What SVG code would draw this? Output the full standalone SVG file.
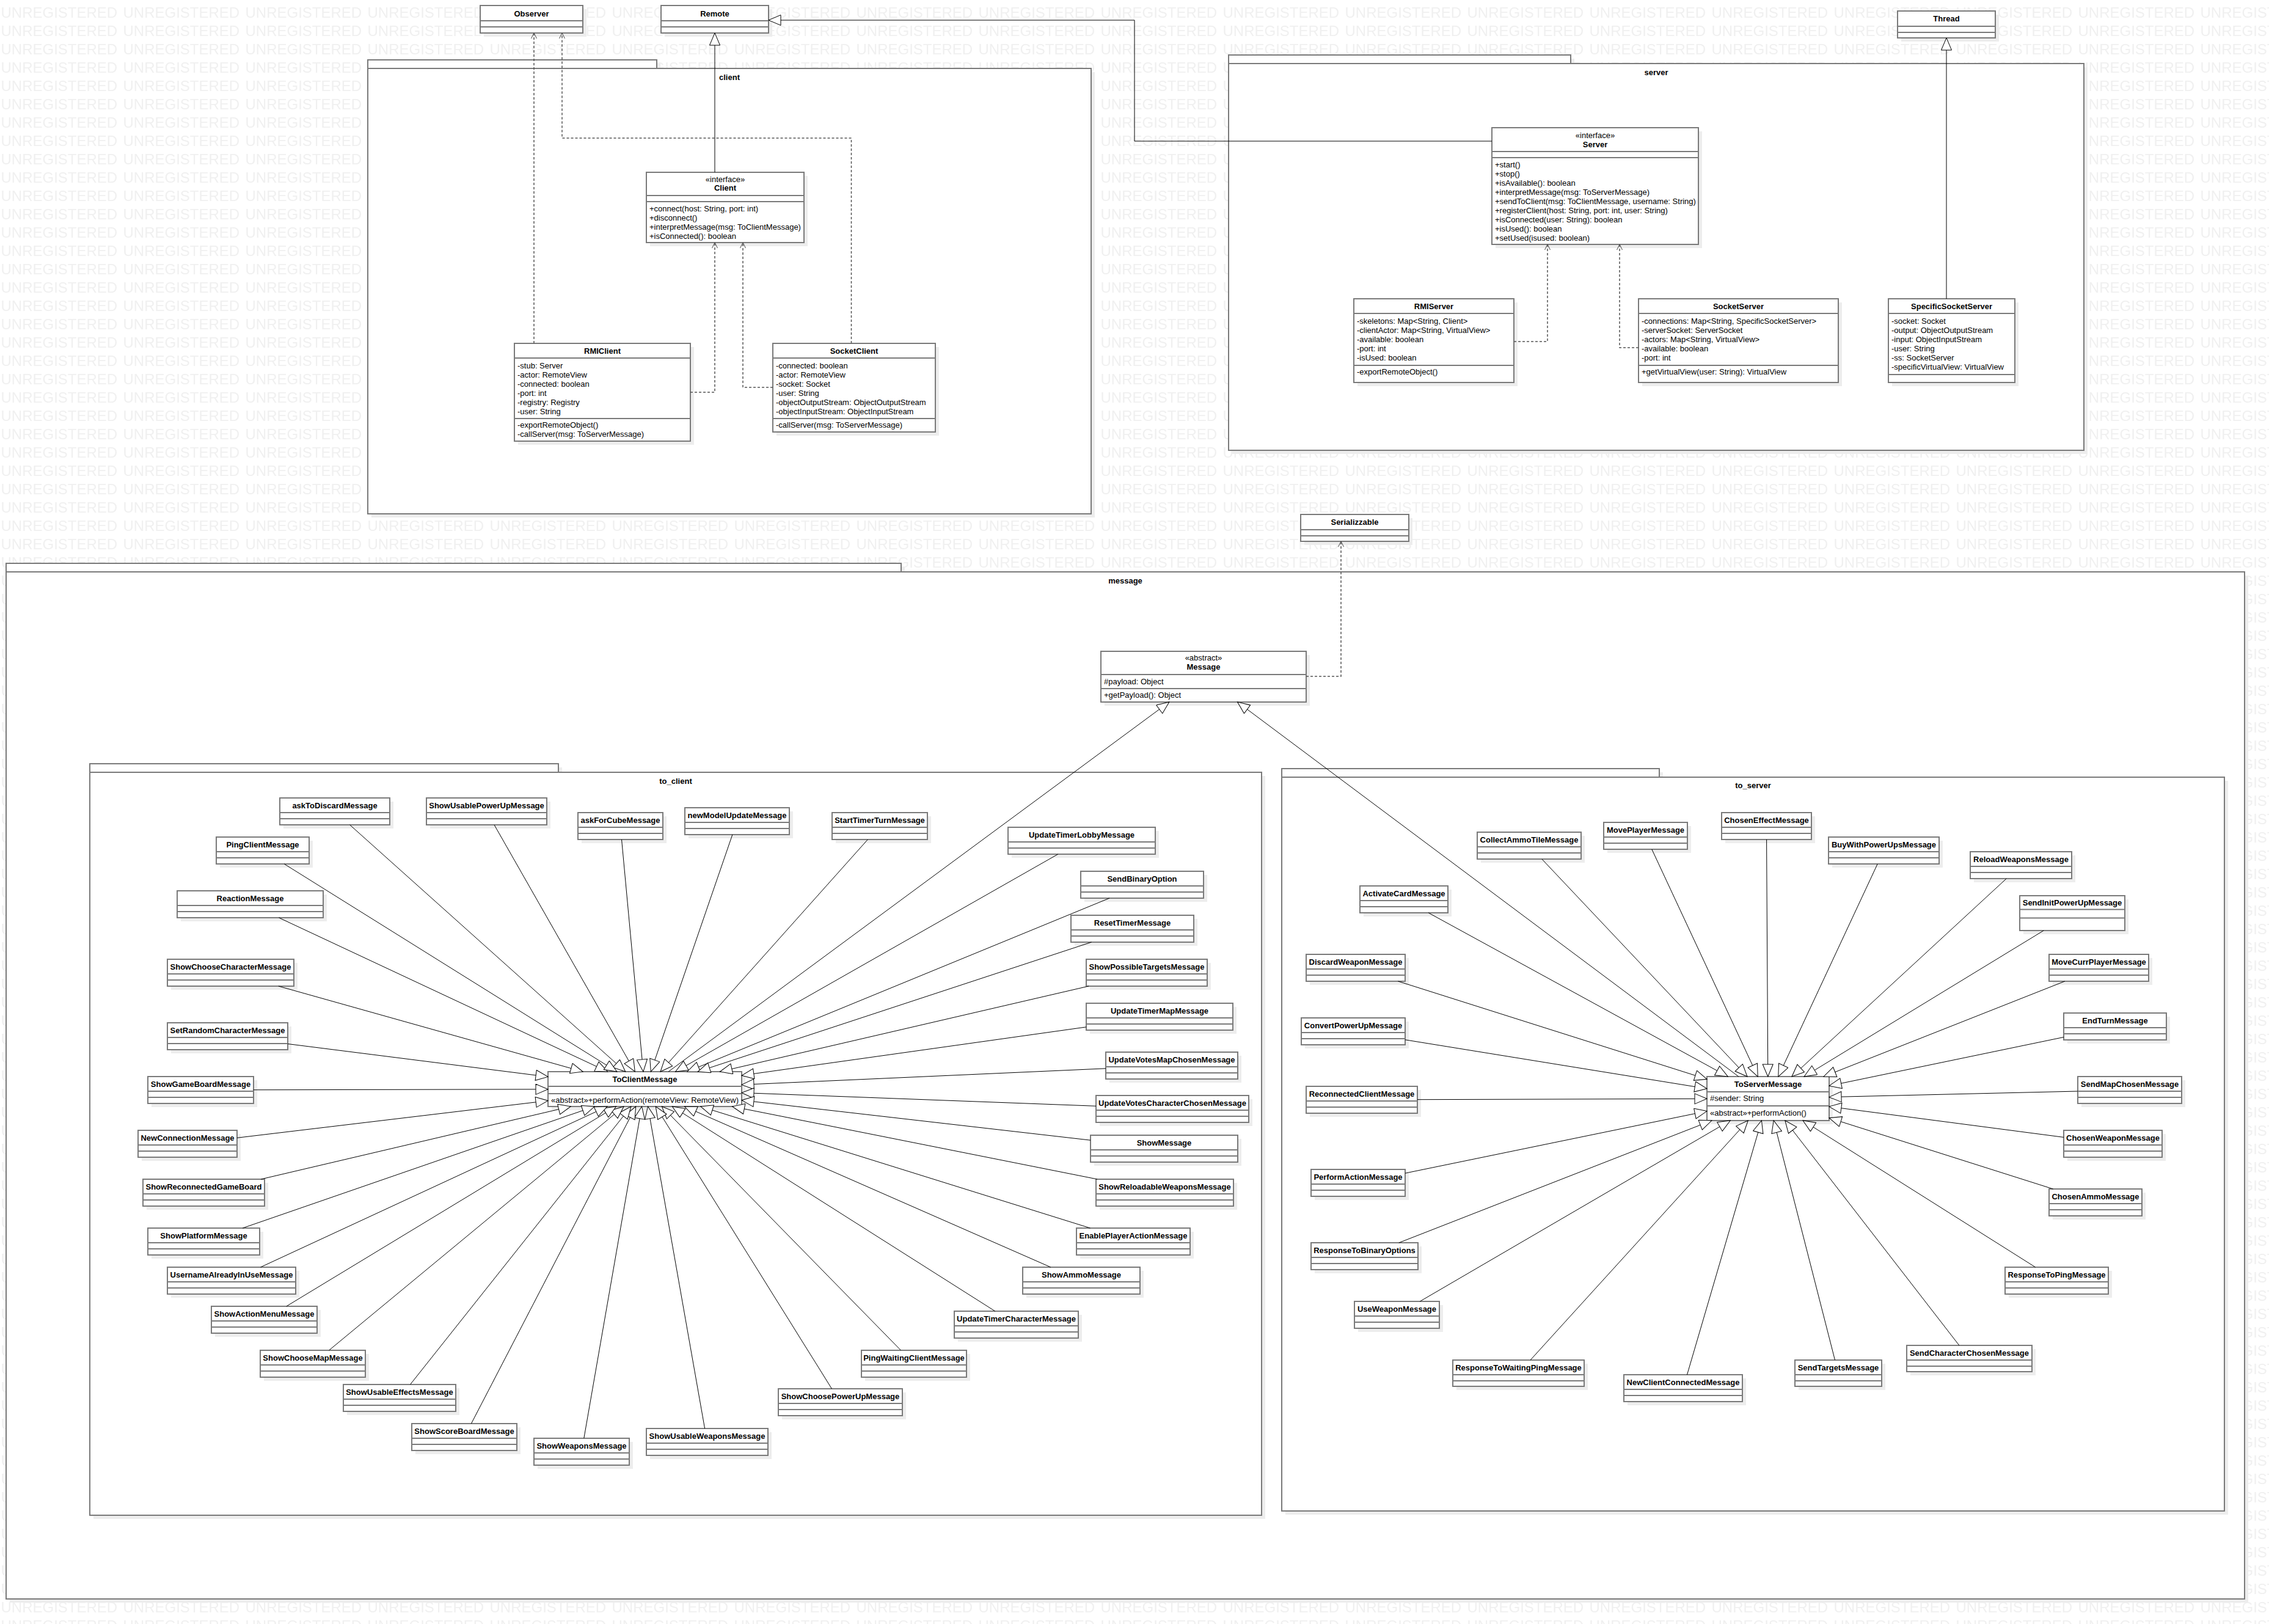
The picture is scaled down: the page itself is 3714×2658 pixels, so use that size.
<svg xmlns="http://www.w3.org/2000/svg" width="3714" height="2658" viewBox="0 0 3714 2658">
<style>
.bx{fill:#fff;stroke:#7a7a7a;stroke-width:2}
.sh{fill:#ededed}
.dv{stroke:#7a7a7a;stroke-width:2;fill:none}
.pk{fill:#fff;stroke:#7a7a7a;stroke-width:2}
.nm{font-family:'Liberation Sans',Arial,sans-serif;font-size:13px;font-weight:bold;text-anchor:middle;fill:#000}
.st{font-family:'Liberation Sans',Arial,sans-serif;font-size:13px;text-anchor:middle;fill:#000}
.tx{font-family:'Liberation Sans',Arial,sans-serif;font-size:13px;fill:#000}
.gen{stroke:#000;stroke-width:1;fill:none;marker-end:url(#tri)}
.dep{stroke:#555;stroke-width:1.5;fill:none;stroke-dasharray:4 3;marker-end:url(#open)}
</style>
<defs>
<pattern id="wm" patternUnits="userSpaceOnUse" x="0" y="0" width="200" height="30">
<text x="1.5" y="29" font-family="'Liberation Sans',Arial,sans-serif" font-size="24" fill="#f0f0f0">UNREGISTERED</text>
</pattern>
<marker id="tri" markerUnits="userSpaceOnUse" markerWidth="24" markerHeight="20" refX="21" refY="9" orient="auto"><path d="M1,0.5 L21,9 L1,17.5 Z" fill="#fff" stroke="#000" stroke-width="1"/></marker>
<marker id="open" markerUnits="userSpaceOnUse" markerWidth="12" markerHeight="12" refX="10" refY="5" orient="auto"><path d="M1,0.5 L10,5 L1,9.5" fill="none" stroke="#444" stroke-width="1"/></marker>
</defs>
<rect width="3714" height="2658" fill="#fff"/>
<rect width="3714" height="2658" fill="url(#wm)"/>

<g id="pkg_client">
<rect class="sh" x="608" y="104" width="473" height="14"/><rect class="sh" x="608" y="118" width="1184" height="729"/>
<rect class="pk" x="602" y="98" width="473" height="14"/><rect class="pk" x="602" y="112" width="1184" height="729"/>
<text class="nm" x="1194" y="130.5">client</text>
</g>
<g id="pkg_server">
<rect class="sh" x="2017" y="96" width="560" height="14"/><rect class="sh" x="2017" y="110" width="1400" height="633"/>
<rect class="pk" x="2011" y="90" width="560" height="14"/><rect class="pk" x="2011" y="104" width="1400" height="633"/>
<text class="nm" x="2711" y="122.5">server</text>
</g>
<g id="pkg_message">
<rect class="sh" x="16" y="928" width="1465" height="14"/><rect class="sh" x="16" y="942" width="3664" height="1681"/>
<rect class="pk" x="10" y="922" width="1465" height="14"/><rect class="pk" x="10" y="936" width="3664" height="1681"/>
<text class="nm" x="1842" y="954.5">message</text>
</g>
<g id="pkg_to_client">
<rect class="sh" x="153" y="1256" width="767" height="14"/><rect class="sh" x="153" y="1270" width="1918" height="1216"/>
<rect class="pk" x="147" y="1250" width="767" height="14"/><rect class="pk" x="147" y="1264" width="1918" height="1216"/>
<text class="nm" x="1106" y="1283">to_client</text>
</g>
<g id="pkg_to_server">
<rect class="sh" x="2104" y="1264" width="618" height="14"/><rect class="sh" x="2104" y="1278" width="1543" height="1201"/>
<rect class="pk" x="2098" y="1258" width="618" height="14"/><rect class="pk" x="2098" y="1272" width="1543" height="1201"/>
<text class="nm" x="2869.5" y="1289.5">to_server</text>
</g>

<g id="n_Observer"><rect class="sh" x="792" y="15" width="168" height="45"/><rect class="bx" x="786" y="9" width="168" height="45"/><path class="dv" d="M786,34h168M786,44h168"/><text class="nm" x="870" y="26.5">Observer</text></g>
<g id="n_Remote"><rect class="sh" x="1088" y="15" width="176" height="45"/><rect class="bx" x="1082" y="9" width="176" height="45"/><path class="dv" d="M1082,34h176M1082,44h176"/><text class="nm" x="1170" y="26.5">Remote</text></g>
<g id="n_Thread"><rect class="sh" x="3112" y="24" width="160" height="44"/><rect class="bx" x="3106" y="18" width="160" height="44"/><path class="dv" d="M3106,43h160M3106,53h160"/><text class="nm" x="3186" y="35">Thread</text></g>
<g id="n_Serializzable"><rect class="sh" x="2135" y="848" width="177" height="44"/><rect class="bx" x="2129" y="842" width="177" height="44"/><path class="dv" d="M2129,867h177M2129,877h177"/><text class="nm" x="2217.5" y="859">Serializzable</text></g>

<g id="n_Client"><rect class="sh" x="1064" y="288" width="258" height="115"/><rect class="bx" x="1058" y="282" width="258" height="115"/><path class="dv" d="M1058,320h258M1058,330h258"/>
<text class="st" x="1187" y="297.5">«interface»</text><text class="nm" x="1187" y="312">Client</text>
<text class="tx" x="1063" y="345.5">+connect(host: String, port: int)</text><text class="tx" x="1063" y="360.5">+disconnect()</text><text class="tx" x="1063" y="375.5">+interpretMessage(msg: ToClientMessage)</text><text class="tx" x="1063" y="390.5">+isConnected(): boolean</text></g>

<g id="n_RMIClient"><rect class="sh" x="848" y="568" width="288" height="160"/><rect class="bx" x="842" y="562" width="288" height="160"/><path class="dv" d="M842,586h288M842,685h288"/>
<text class="nm" x="986" y="578.5">RMIClient</text>
<text class="tx" x="847" y="602.5">-stub: Server</text><text class="tx" x="847" y="617.5">-actor: RemoteView</text><text class="tx" x="847" y="632.5">-connected: boolean</text><text class="tx" x="847" y="647.5">-port: int</text><text class="tx" x="847" y="662.5">-registry: Registry</text><text class="tx" x="847" y="677.5">-user: String</text>
<text class="tx" x="847" y="699.5">-exportRemoteObject()</text><text class="tx" x="847" y="714.5">-callServer(msg: ToServerMessage)</text></g>

<g id="n_SocketClient"><rect class="sh" x="1271" y="568" width="266" height="145"/><rect class="bx" x="1265" y="562" width="266" height="145"/><path class="dv" d="M1265,586h266M1265,685h266"/>
<text class="nm" x="1398" y="578.5">SocketClient</text>
<text class="tx" x="1270" y="602.5">-connected: boolean</text><text class="tx" x="1270" y="617.5">-actor: RemoteView</text><text class="tx" x="1270" y="632.5">-socket: Socket</text><text class="tx" x="1270" y="647.5">-user: String</text><text class="tx" x="1270" y="662.5">-objectOutputStream: ObjectOutputStream</text><text class="tx" x="1270" y="677.5">-objectInputStream: ObjectInputStream</text>
<text class="tx" x="1270" y="699.5">-callServer(msg: ToServerMessage)</text></g>

<g id="n_Server"><rect class="sh" x="2448" y="215" width="338" height="191"/><rect class="bx" x="2442" y="209" width="338" height="191"/><path class="dv" d="M2442,248h338M2442,258h338"/>
<text class="st" x="2611" y="225.5">«interface»</text><text class="nm" x="2611" y="240.5">Server</text>
<text class="tx" x="2447" y="273.5">+start()</text><text class="tx" x="2447" y="288.5">+stop()</text><text class="tx" x="2447" y="303.5">+isAvailable(): boolean</text><text class="tx" x="2447" y="318.5">+interpretMessage(msg: ToServerMessage)</text><text class="tx" x="2447" y="333.5">+sendToClient(msg: ToClientMessage, username: String)</text><text class="tx" x="2447" y="348.5">+registerClient(host: String, port: int, user: String)</text><text class="tx" x="2447" y="363.5">+isConnected(user: String): boolean</text><text class="tx" x="2447" y="378.5">+isUsed(): boolean</text><text class="tx" x="2447" y="393.5">+setUsed(isused: boolean)</text></g>

<g id="n_RMIServer"><rect class="sh" x="2222" y="495" width="262" height="137"/><rect class="bx" x="2216" y="489" width="262" height="137"/><path class="dv" d="M2216,513h262M2216,598h262"/>
<text class="nm" x="2347" y="505.5">RMIServer</text>
<text class="tx" x="2221" y="529.5">-skeletons: Map&lt;String, Client&gt;</text><text class="tx" x="2221" y="544.5">-clientActor: Map&lt;String, VirtualView&gt;</text><text class="tx" x="2221" y="559.5">-available: boolean</text><text class="tx" x="2221" y="574.5">-port: int</text><text class="tx" x="2221" y="589.5">-isUsed: boolean</text>
<text class="tx" x="2221" y="612.5">-exportRemoteObject()</text></g>

<g id="n_SocketServer"><rect class="sh" x="2688" y="495" width="327" height="137"/><rect class="bx" x="2682" y="489" width="327" height="137"/><path class="dv" d="M2682,513h327M2682,598h327"/>
<text class="nm" x="2845.5" y="505.5">SocketServer</text>
<text class="tx" x="2687" y="529.5">-connections: Map&lt;String, SpecificSocketServer&gt;</text><text class="tx" x="2687" y="544.5">-serverSocket: ServerSocket</text><text class="tx" x="2687" y="559.5">-actors: Map&lt;String, VirtualView&gt;</text><text class="tx" x="2687" y="574.5">-available: boolean</text><text class="tx" x="2687" y="589.5">-port: int</text>
<text class="tx" x="2687" y="612.5">+getVirtualView(user: String): VirtualView</text></g>

<g id="n_SpecificSocketServer"><rect class="sh" x="3097" y="495" width="207" height="137"/><rect class="bx" x="3091" y="489" width="207" height="137"/><path class="dv" d="M3091,513h207M3091,613h207"/>
<text class="nm" x="3194.5" y="505.5">SpecificSocketServer</text>
<text class="tx" x="3096" y="529.5">-socket: Socket</text><text class="tx" x="3096" y="544.5">-output: ObjectOutputStream</text><text class="tx" x="3096" y="559.5">-input: ObjectInputStream</text><text class="tx" x="3096" y="574.5">-user: String</text><text class="tx" x="3096" y="589.5">-ss: SocketServer</text><text class="tx" x="3096" y="604.5">-specificVirtualView: VirtualView</text></g>

<g id="n_Message"><rect class="sh" x="1808" y="1072" width="336" height="83"/><rect class="bx" x="1802" y="1066" width="336" height="83"/><path class="dv" d="M1802,1104h336M1802,1127h336"/>
<text class="st" x="1970" y="1081">«abstract»</text><text class="nm" x="1970" y="1096">Message</text>
<text class="tx" x="1807" y="1119.5">#payload: Object</text><text class="tx" x="1807" y="1142">+getPayload(): Object</text></g>

<g id="n_ToClientMessage"><rect class="sh" x="903" y="1760" width="317" height="57"/><rect class="bx" x="897" y="1754" width="317" height="57"/><path class="dv" d="M897,1778h317M897,1790h317"/>
<text class="nm" x="1055.5" y="1770.5">ToClientMessage</text><text class="tx" x="902" y="1804.5">«abstract»+performAction(remoteView: RemoteView)</text></g>

<g id="n_ToServerMessage"><rect class="sh" x="2800" y="1768" width="200" height="72"/><rect class="bx" x="2794" y="1762" width="200" height="72"/><path class="dv" d="M2794,1787h200M2794,1810h200"/>
<text class="nm" x="2894" y="1779">ToServerMessage</text><text class="tx" x="2799" y="1802">#sender: String</text><text class="tx" x="2799" y="1826">«abstract»+performAction()</text></g>

<g id="n_askToDiscardMessage"><rect class="sh" x="464" y="1312" width="180" height="44"/><rect class="bx" x="458" y="1306" width="180" height="44"/><path class="dv" d="M458,1330h180M458,1340h180"/><text class="nm" x="548" y="1322.5">askToDiscardMessage</text></g>
<g id="n_ShowUsablePowerUpMessage"><rect class="sh" x="704" y="1312" width="197" height="44"/><rect class="bx" x="698" y="1306" width="197" height="44"/><path class="dv" d="M698,1330h197M698,1340h197"/><text class="nm" x="796.5" y="1322.5">ShowUsablePowerUpMessage</text></g>
<g id="n_askForCubeMessage"><rect class="sh" x="952" y="1336" width="139" height="44"/><rect class="bx" x="946" y="1330" width="139" height="44"/><path class="dv" d="M946,1354h139M946,1364h139"/><text class="nm" x="1015.5" y="1346.5">askForCubeMessage</text></g>
<g id="n_newModelUpdateMessage"><rect class="sh" x="1127" y="1328" width="171" height="44"/><rect class="bx" x="1121" y="1322" width="171" height="44"/><path class="dv" d="M1121,1346h171M1121,1356h171"/><text class="nm" x="1206.5" y="1338.5">newModelUpdateMessage</text></g>
<g id="n_StartTimerTurnMessage"><rect class="sh" x="1368" y="1336" width="156" height="44"/><rect class="bx" x="1362" y="1330" width="156" height="44"/><path class="dv" d="M1362,1354h156M1362,1364h156"/><text class="nm" x="1440" y="1346.5">StartTimerTurnMessage</text></g>
<g id="n_UpdateTimerLobbyMessage"><rect class="sh" x="1656" y="1360" width="241" height="44"/><rect class="bx" x="1650" y="1354" width="241" height="44"/><path class="dv" d="M1650,1378h241M1650,1388h241"/><text class="nm" x="1770.5" y="1370.5">UpdateTimerLobbyMessage</text></g>
<g id="n_SendBinaryOption"><rect class="sh" x="1775" y="1432" width="201" height="44"/><rect class="bx" x="1769" y="1426" width="201" height="44"/><path class="dv" d="M1769,1450h201M1769,1460h201"/><text class="nm" x="1869.5" y="1442.5">SendBinaryOption</text></g>
<g id="n_ResetTimerMessage"><rect class="sh" x="1759" y="1504" width="201" height="44"/><rect class="bx" x="1753" y="1498" width="201" height="44"/><path class="dv" d="M1753,1522h201M1753,1532h201"/><text class="nm" x="1853.5" y="1514.5">ResetTimerMessage</text></g>
<g id="n_ShowPossibleTargetsMessage"><rect class="sh" x="1784" y="1576" width="198" height="44"/><rect class="bx" x="1778" y="1570" width="198" height="44"/><path class="dv" d="M1778,1594h198M1778,1604h198"/><text class="nm" x="1877" y="1586.5">ShowPossibleTargetsMessage</text></g>
<g id="n_UpdateTimerMapMessage"><rect class="sh" x="1784" y="1648" width="240" height="44"/><rect class="bx" x="1778" y="1642" width="240" height="44"/><path class="dv" d="M1778,1666h240M1778,1676h240"/><text class="nm" x="1898" y="1658.5">UpdateTimerMapMessage</text></g>
<g id="n_UpdateVotesMapChosenMessage"><rect class="sh" x="1816" y="1728" width="216" height="44"/><rect class="bx" x="1810" y="1722" width="216" height="44"/><path class="dv" d="M1810,1746h216M1810,1756h216"/><text class="nm" x="1918" y="1738.5">UpdateVotesMapChosenMessage</text></g>
<g id="n_UpdateVotesCharacterChosenMessage"><rect class="sh" x="1800" y="1799" width="250" height="44"/><rect class="bx" x="1794" y="1793" width="250" height="44"/><path class="dv" d="M1794,1817h250M1794,1827h250"/><text class="nm" x="1919" y="1809.5">UpdateVotesCharacterChosenMessage</text></g>
<g id="n_ShowMessage"><rect class="sh" x="1791" y="1864" width="241" height="44"/><rect class="bx" x="1785" y="1858" width="241" height="44"/><path class="dv" d="M1785,1882h241M1785,1892h241"/><text class="nm" x="1905.5" y="1874.5">ShowMessage</text></g>
<g id="n_ShowReloadableWeaponsMessage"><rect class="sh" x="1800" y="1936" width="225" height="44"/><rect class="bx" x="1794" y="1930" width="225" height="44"/><path class="dv" d="M1794,1954h225M1794,1964h225"/><text class="nm" x="1906.5" y="1946.5">ShowReloadableWeaponsMessage</text></g>
<g id="n_EnablePlayerActionMessage"><rect class="sh" x="1768" y="2016" width="186" height="44"/><rect class="bx" x="1762" y="2010" width="186" height="44"/><path class="dv" d="M1762,2034h186M1762,2044h186"/><text class="nm" x="1855" y="2026.5">EnablePlayerActionMessage</text></g>
<g id="n_ShowAmmoMessage"><rect class="sh" x="1680" y="2080" width="192" height="44"/><rect class="bx" x="1674" y="2074" width="192" height="44"/><path class="dv" d="M1674,2098h192M1674,2108h192"/><text class="nm" x="1770" y="2090.5">ShowAmmoMessage</text></g>
<g id="n_UpdateTimerCharacterMessage"><rect class="sh" x="1568" y="2152" width="203" height="44"/><rect class="bx" x="1562" y="2146" width="203" height="44"/><path class="dv" d="M1562,2170h203M1562,2180h203"/><text class="nm" x="1663.5" y="2162.5">UpdateTimerCharacterMessage</text></g>
<g id="n_PingWaitingClientMessage"><rect class="sh" x="1416" y="2216" width="172" height="44"/><rect class="bx" x="1410" y="2210" width="172" height="44"/><path class="dv" d="M1410,2234h172M1410,2244h172"/><text class="nm" x="1496" y="2226.5">PingWaitingClientMessage</text></g>
<g id="n_ShowChoosePowerUpMessage"><rect class="sh" x="1280" y="2279" width="203" height="44"/><rect class="bx" x="1274" y="2273" width="203" height="44"/><path class="dv" d="M1274,2297h203M1274,2307h203"/><text class="nm" x="1375.5" y="2289.5">ShowChoosePowerUpMessage</text></g>
<g id="n_ShowUsableWeaponsMessage"><rect class="sh" x="1064" y="2344" width="199" height="44"/><rect class="bx" x="1058" y="2338" width="199" height="44"/><path class="dv" d="M1058,2362h199M1058,2372h199"/><text class="nm" x="1157.5" y="2354.5">ShowUsableWeaponsMessage</text></g>
<g id="n_ShowWeaponsMessage"><rect class="sh" x="880" y="2360" width="156" height="44"/><rect class="bx" x="874" y="2354" width="156" height="44"/><path class="dv" d="M874,2378h156M874,2388h156"/><text class="nm" x="952" y="2370.5">ShowWeaponsMessage</text></g>
<g id="n_ShowScoreBoardMessage"><rect class="sh" x="680" y="2336" width="172" height="44"/><rect class="bx" x="674" y="2330" width="172" height="44"/><path class="dv" d="M674,2354h172M674,2364h172"/><text class="nm" x="760" y="2346.5">ShowScoreBoardMessage</text></g>
<g id="n_ShowUsableEffectsMessage"><rect class="sh" x="568" y="2272" width="184" height="44"/><rect class="bx" x="562" y="2266" width="184" height="44"/><path class="dv" d="M562,2290h184M562,2300h184"/><text class="nm" x="654" y="2282.5">ShowUsableEffectsMessage</text></g>
<g id="n_ShowChooseMapMessage"><rect class="sh" x="432" y="2216" width="172" height="44"/><rect class="bx" x="426" y="2210" width="172" height="44"/><path class="dv" d="M426,2234h172M426,2244h172"/><text class="nm" x="512" y="2226.5">ShowChooseMapMessage</text></g>
<g id="n_ShowActionMenuMessage"><rect class="sh" x="352" y="2144" width="173" height="44"/><rect class="bx" x="346" y="2138" width="173" height="44"/><path class="dv" d="M346,2162h173M346,2172h173"/><text class="nm" x="432.5" y="2154.5">ShowActionMenuMessage</text></g>
<g id="n_UsernameAlreadyInUseMessage"><rect class="sh" x="280" y="2080" width="210" height="44"/><rect class="bx" x="274" y="2074" width="210" height="44"/><path class="dv" d="M274,2098h210M274,2108h210"/><text class="nm" x="379" y="2090.5">UsernameAlreadyInUseMessage</text></g>
<g id="n_ShowPlatformMessage"><rect class="sh" x="248" y="2016" width="183" height="44"/><rect class="bx" x="242" y="2010" width="183" height="44"/><path class="dv" d="M242,2034h183M242,2044h183"/><text class="nm" x="333.5" y="2026.5">ShowPlatformMessage</text></g>
<g id="n_ShowReconnectedGameBoard"><rect class="sh" x="240" y="1936" width="199" height="44"/><rect class="bx" x="234" y="1930" width="199" height="44"/><path class="dv" d="M234,1954h199M234,1964h199"/><text class="nm" x="333.5" y="1946.5">ShowReconnectedGameBoard</text></g>
<g id="n_NewConnectionMessage"><rect class="sh" x="232" y="1856" width="162" height="44"/><rect class="bx" x="226" y="1850" width="162" height="44"/><path class="dv" d="M226,1874h162M226,1884h162"/><text class="nm" x="307" y="1866.5">NewConnectionMessage</text></g>
<g id="n_ShowGameBoardMessage"><rect class="sh" x="248" y="1768" width="173" height="44"/><rect class="bx" x="242" y="1762" width="173" height="44"/><path class="dv" d="M242,1786h173M242,1796h173"/><text class="nm" x="328.5" y="1778.5">ShowGameBoardMessage</text></g>
<g id="n_SetRandomCharacterMessage"><rect class="sh" x="280" y="1680" width="197" height="44"/><rect class="bx" x="274" y="1674" width="197" height="44"/><path class="dv" d="M274,1698h197M274,1708h197"/><text class="nm" x="372.5" y="1690.5">SetRandomCharacterMessage</text></g>
<g id="n_ShowChooseCharacterMessage"><rect class="sh" x="280" y="1576" width="207" height="44"/><rect class="bx" x="274" y="1570" width="207" height="44"/><path class="dv" d="M274,1594h207M274,1604h207"/><text class="nm" x="377.5" y="1586.5">ShowChooseCharacterMessage</text></g>
<g id="n_ReactionMessage"><rect class="sh" x="296" y="1464" width="239" height="44"/><rect class="bx" x="290" y="1458" width="239" height="44"/><path class="dv" d="M290,1482h239M290,1492h239"/><text class="nm" x="409.5" y="1474.5">ReactionMessage</text></g>
<g id="n_PingClientMessage"><rect class="sh" x="360" y="1376" width="152" height="44"/><rect class="bx" x="354" y="1370" width="152" height="44"/><path class="dv" d="M354,1394h152M354,1404h152"/><text class="nm" x="430" y="1386.5">PingClientMessage</text></g>

<g id="n_CollectAmmoTileMessage"><rect class="sh" x="2424" y="1368" width="170" height="44"/><rect class="bx" x="2418" y="1362" width="170" height="44"/><path class="dv" d="M2418,1386h170M2418,1396h170"/><text class="nm" x="2503" y="1378.5">CollectAmmoTileMessage</text></g>
<g id="n_MovePlayerMessage"><rect class="sh" x="2631" y="1352" width="137" height="44"/><rect class="bx" x="2625" y="1346" width="137" height="44"/><path class="dv" d="M2625,1370h137M2625,1380h137"/><text class="nm" x="2693.5" y="1362.5">MovePlayerMessage</text></g>
<g id="n_ChosenEffectMessage"><rect class="sh" x="2824" y="1336" width="147" height="44"/><rect class="bx" x="2818" y="1330" width="147" height="44"/><path class="dv" d="M2818,1354h147M2818,1364h147"/><text class="nm" x="2891.5" y="1346.5">ChosenEffectMessage</text></g>
<g id="n_BuyWithPowerUpsMessage"><rect class="sh" x="2999" y="1376" width="181" height="44"/><rect class="bx" x="2993" y="1370" width="181" height="44"/><path class="dv" d="M2993,1394h181M2993,1404h181"/><text class="nm" x="3083.5" y="1386.5">BuyWithPowerUpsMessage</text></g>
<g id="n_ReloadWeaponsMessage"><rect class="sh" x="3231" y="1400" width="166" height="44"/><rect class="bx" x="3225" y="1394" width="166" height="44"/><path class="dv" d="M3225,1418h166M3225,1428h166"/><text class="nm" x="3308" y="1410.5">ReloadWeaponsMessage</text></g>
<g id="n_SendInitPowerUpMessage"><rect class="sh" x="3312" y="1472" width="172" height="57"/><rect class="bx" x="3306" y="1466" width="172" height="57"/><path class="dv" d="M3306,1488.5h172M3306,1502.5h172"/><text class="nm" x="3392" y="1481.5">SendInitPowerUpMessage</text></g>
<g id="n_MoveCurrPlayerMessage"><rect class="sh" x="3360" y="1568" width="163" height="44"/><rect class="bx" x="3354" y="1562" width="163" height="44"/><path class="dv" d="M3354,1586h163M3354,1596h163"/><text class="nm" x="3435.5" y="1578.5">MoveCurrPlayerMessage</text></g>
<g id="n_EndTurnMessage"><rect class="sh" x="3384" y="1664" width="168" height="44"/><rect class="bx" x="3378" y="1658" width="168" height="44"/><path class="dv" d="M3378,1682h168M3378,1692h168"/><text class="nm" x="3462" y="1674.5">EndTurnMessage</text></g>
<g id="n_SendMapChosenMessage"><rect class="sh" x="3407" y="1768" width="170" height="44"/><rect class="bx" x="3401" y="1762" width="170" height="44"/><path class="dv" d="M3401,1786h170M3401,1796h170"/><text class="nm" x="3486" y="1778.5">SendMapChosenMessage</text></g>
<g id="n_ChosenWeaponMessage"><rect class="sh" x="3384" y="1856" width="161" height="44"/><rect class="bx" x="3378" y="1850" width="161" height="44"/><path class="dv" d="M3378,1874h161M3378,1884h161"/><text class="nm" x="3458.5" y="1866.5">ChosenWeaponMessage</text></g>
<g id="n_ChosenAmmoMessage"><rect class="sh" x="3360" y="1952" width="152" height="44"/><rect class="bx" x="3354" y="1946" width="152" height="44"/><path class="dv" d="M3354,1970h152M3354,1980h152"/><text class="nm" x="3430" y="1962.5">ChosenAmmoMessage</text></g>
<g id="n_ResponseToPingMessage"><rect class="sh" x="3288" y="2080" width="169" height="44"/><rect class="bx" x="3282" y="2074" width="169" height="44"/><path class="dv" d="M3282,2098h169M3282,2108h169"/><text class="nm" x="3366.5" y="2090.5">ResponseToPingMessage</text></g>
<g id="n_SendCharacterChosenMessage"><rect class="sh" x="3127" y="2208" width="205" height="43"/><rect class="bx" x="3121" y="2202" width="205" height="43"/><path class="dv" d="M3121,2226h205M3121,2236h205"/><text class="nm" x="3223.5" y="2218.5">SendCharacterChosenMessage</text></g>
<g id="n_SendTargetsMessage"><rect class="sh" x="2944" y="2232" width="142" height="43"/><rect class="bx" x="2938" y="2226" width="142" height="43"/><path class="dv" d="M2938,2250h142M2938,2260h142"/><text class="nm" x="3009" y="2242.5">SendTargetsMessage</text></g>
<g id="n_NewClientConnectedMessage"><rect class="sh" x="2664" y="2256" width="194" height="44"/><rect class="bx" x="2658" y="2250" width="194" height="44"/><path class="dv" d="M2658,2274h194M2658,2284h194"/><text class="nm" x="2755" y="2266.5">NewClientConnectedMessage</text></g>
<g id="n_ResponseToWaitingPingMessage"><rect class="sh" x="2384" y="2232" width="215" height="43"/><rect class="bx" x="2378" y="2226" width="215" height="43"/><path class="dv" d="M2378,2250h215M2378,2260h215"/><text class="nm" x="2485.5" y="2242.5">ResponseToWaitingPingMessage</text></g>
<g id="n_UseWeaponMessage"><rect class="sh" x="2223" y="2136" width="139" height="44"/><rect class="bx" x="2217" y="2130" width="139" height="44"/><path class="dv" d="M2217,2154h139M2217,2164h139"/><text class="nm" x="2286.5" y="2146.5">UseWeaponMessage</text></g>
<g id="n_ResponseToBinaryOptions"><rect class="sh" x="2152" y="2040" width="175" height="44"/><rect class="bx" x="2146" y="2034" width="175" height="44"/><path class="dv" d="M2146,2058h175M2146,2068h175"/><text class="nm" x="2233.5" y="2050.5">ResponseToBinaryOptions</text></g>
<g id="n_PerformActionMessage"><rect class="sh" x="2152" y="1920" width="154" height="44"/><rect class="bx" x="2146" y="1914" width="154" height="44"/><path class="dv" d="M2146,1938h154M2146,1948h154"/><text class="nm" x="2223" y="1930.5">PerformActionMessage</text></g>
<g id="n_ReconnectedClientMessage"><rect class="sh" x="2144" y="1784" width="182" height="44"/><rect class="bx" x="2138" y="1778" width="182" height="44"/><path class="dv" d="M2138,1802h182M2138,1812h182"/><text class="nm" x="2229" y="1794.5">ReconnectedClientMessage</text></g>
<g id="n_ConvertPowerUpMessage"><rect class="sh" x="2136" y="1672" width="170" height="44"/><rect class="bx" x="2130" y="1666" width="170" height="44"/><path class="dv" d="M2130,1690h170M2130,1700h170"/><text class="nm" x="2215" y="1682.5">ConvertPowerUpMessage</text></g>
<g id="n_DiscardWeaponMessage"><rect class="sh" x="2144" y="1568" width="162" height="44"/><rect class="bx" x="2138" y="1562" width="162" height="44"/><path class="dv" d="M2138,1586h162M2138,1596h162"/><text class="nm" x="2219" y="1578.5">DiscardWeaponMessage</text></g>
<g id="n_ActivateCardMessage"><rect class="sh" x="2232" y="1456" width="144" height="44"/><rect class="bx" x="2226" y="1450" width="144" height="44"/><path class="dv" d="M2226,1474h144M2226,1484h144"/><text class="nm" x="2298" y="1466.5">ActivateCardMessage</text></g>

<g id="connectors">
<path class="dep" d="M874,562 L874,54"/>
<path class="dep" d="M1393.5,562 L1393.5,226 L920,226 L920,54"/>
<path class="dep" d="M1130,642 L1170,642 L1170,397"/>
<path class="dep" d="M1265,634 L1216,634 L1216,397"/>
<path class="gen" d="M1170,282 L1170,54"/>
<path class="gen" d="M2442,231 L1857,231 L1857,33 L1258,33"/>
<path class="dep" d="M2478,559 L2533,559 L2533,400"/>
<path class="dep" d="M2682,569 L2651,569 L2651,400"/>
<path class="gen" d="M3186,489 L3186,62"/>
<path class="dep" d="M2138,1107 L2195,1107 L2195,886"/>
<path class="gen" d="M1094.1,1754 L1913.8,1149"/>
<path class="gen" d="M2845.8,1762 L2025.5,1149"/>
<path class="gen" d="M572.6,1350 L1023.7,1754"/>
<path class="gen" d="M809,1350 L1039.3,1754"/>
<path class="gen" d="M1017.5,1374 L1052.9,1754"/>
<path class="gen" d="M1198.9,1366 L1065.3,1754"/>
<path class="gen" d="M1420.4,1374 L1081,1754"/>
<path class="gen" d="M1731.8,1398 L1105.6,1754"/>
<path class="gen" d="M1816,1470 L1124.9,1754"/>
<path class="gen" d="M1786.6,1542 L1142.2,1754"/>
<path class="gen" d="M1782.1,1614 L1178.4,1754"/>
<path class="gen" d="M1778,1680.9 L1214,1760.2"/>
<path class="gen" d="M1810,1748.8 L1214,1775.4"/>
<path class="gen" d="M1794,1810.3 L1214,1788.5"/>
<path class="gen" d="M1785,1866.2 L1214,1800.7"/>
<path class="gen" d="M1796,1930 L1198.6,1811"/>
<path class="gen" d="M1784.5,2010 L1146.8,1811"/>
<path class="gen" d="M1719.8,2074 L1120.5,1811"/>
<path class="gen" d="M1628.8,2146 L1100.4,1811"/>
<path class="gen" d="M1474.5,2210 L1083.4,1811"/>
<path class="gen" d="M1361.5,2273 L1073.3,1811"/>
<path class="gen" d="M1153.6,2338 L1060.5,1811"/>
<path class="gen" d="M955.8,2354 L1050.5,1811"/>
<path class="gen" d="M771.4,2330 L1040.7,1811"/>
<path class="gen" d="M671.5,2266 L1032.9,1811"/>
<path class="gen" d="M538.6,2210 L1021,1811"/>
<path class="gen" d="M468.8,2138 L1008.5,1811"/>
<path class="gen" d="M426.5,2074 L994,1811"/>
<path class="gen" d="M397.2,2010 L973,1811"/>
<path class="gen" d="M427.2,1930 L934.1,1811"/>
<path class="gen" d="M388,1862.3 L897,1801.5"/>
<path class="gen" d="M415,1783.8 L897,1782.8"/>
<path class="gen" d="M471,1708.5 L897,1762.4"/>
<path class="gen" d="M455.8,1614 L954.1,1754"/>
<path class="gen" d="M456.5,1502 L994.6,1754"/>
<path class="gen" d="M465.2,1414 L1009.8,1754"/>
<path class="gen" d="M2523.8,1406 L2860,1762"/>
<path class="gen" d="M2703.8,1390 L2877.2,1762"/>
<path class="gen" d="M2891.6,1374 L2893.8,1762"/>
<path class="gen" d="M3073.2,1414 L2910.8,1762"/>
<path class="gen" d="M3284.2,1438 L2933,1762"/>
<path class="gen" d="M3345.2,1523 L2953.1,1762"/>
<path class="gen" d="M3379.8,1606 L2985.1,1762"/>
<path class="gen" d="M3378,1697.5 L2994,1777.2"/>
<path class="gen" d="M3401,1786 L2994,1795.6"/>
<path class="gen" d="M3378,1861.4 L2994,1811.1"/>
<path class="gen" d="M3360.6,1946 L2994,1829.7"/>
<path class="gen" d="M3331.6,2074 L2951.1,1834"/>
<path class="gen" d="M3206.9,2202 L2921.9,1834"/>
<path class="gen" d="M3003.5,2226 L2903.2,1834"/>
<path class="gen" d="M2761.5,2250 L2883.4,1834"/>
<path class="gen" d="M2505,2226 L2861.3,1834"/>
<path class="gen" d="M2324.2,2130 L2832.2,1834"/>
<path class="gen" d="M2289.8,2034 L2801.8,1834"/>
<path class="gen" d="M2300,1920.2 L2794,1818.6"/>
<path class="gen" d="M2320,1799.7 L2794,1798.3"/>
<path class="gen" d="M2300,1701.8 L2794,1781.8"/>
<path class="gen" d="M2288.4,1606 L2794,1766.3"/>
<path class="gen" d="M2338.2,1494 L2828.2,1762"/>
</g>
</svg>
